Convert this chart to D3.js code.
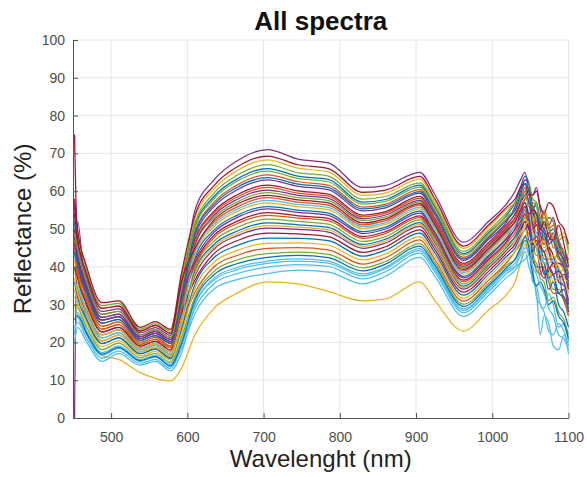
<!DOCTYPE html>
<html>
<head>
<meta charset="utf-8">
<script src="https://cdn.jsdelivr.net/npm/d3@7"></script>
<style>
  body { margin: 0; background: #fff; }
  svg { display: block; font-family: "Liberation Sans", Arial, sans-serif; }
</style>
</head>
<body>
<script>
// Chart size and margins (axes box matches the MATLAB figure)
const width = 587;
const height = 477;
const margin = { top: 40, right: 18.5, bottom: 59, left: 73 };

const wavelengths = [452, 456, 468, 488, 510, 538, 558, 578, 592, 610, 635, 665, 705, 745, 785, 830, 860, 905, 925, 962, 995, 1020,
                     1030, 1037, 1043, 1048, 1053, 1058, 1063, 1068, 1074, 1080, 1087, 1094, 1100];

// Reflectance (%) of each spectrum, one array per sample
const s0 = [44, 37, 30, 22.8, 24, 19, 20.3, 18, 27.5, 42.4, 49.7, 53.6, 55.9, 55, 54.2, 49.3, 50.5, 54.7, 49.1, 37.5, 43, 48, 51, 53, 56, 50, 49, 53, 46, 42, 42, 42, 39, 31, 30];
const s1 = [50, 42.2, 34, 25.9, 26.8, 21, 22.4, 20.2, 31.7, 44.4, 51.8, 55.8, 58.3, 57.1, 56.3, 51.1, 52.2, 56.3, 50.6, 38.9, 44.4, 49.4, 52, 55, 58, 59, 51, 46, 45, 50, 46, 40, 41, 39, 36];
const s2 = [30, 27, 22, 16.5, 15.5, 12, 10.5, 9.8, 13, 22, 29, 33, 36, 35.5, 33.5, 31, 31.5, 36, 31, 23, 28.5, 33, 36, 41, 46, 44, 44, 46, 41, 40, 42, 43, 38, 40, 44];
const s3 = [56, 43.5, 35, 26.6, 27.5, 21.5, 22.9, 20.8, 32.8, 55, 63, 68, 71, 68.5, 67.5, 61, 61.5, 65, 59, 46.5, 52, 57, 60, 63, 65, 60, 59, 61, 55, 51, 51, 53, 47, 43, 42];
const s4 = [40, 34.4, 28, 21.2, 22.6, 18, 19.2, 16.9, 25.4, 39.6, 46.8, 50.4, 52.6, 52, 51.3, 46.7, 48, 52.4, 46.9, 35.5, 41, 46, 48, 51, 53, 54, 46, 43, 43, 44, 38, 34, 34, 32, 27];
const s5 = [24, 25.3, 21, 15.8, 17.7, 14.5, 15.5, 13.1, 18.1, 27.6, 34.1, 36.6, 38.2, 39.1, 38.6, 35.5, 37.5, 42.5, 37.4, 26.9, 32.4, 37.4, 39, 41, 44, 40, 37, 33, 22, 27, 25, 19, 18, 22, 17];
const s6 = [75, 46, 36, 27.4, 28.2, 22, 23.4, 21.3, 33.8, 47.2, 54.7, 59, 61.6, 60.1, 59.2, 53.7, 54.6, 58.6, 52.8, 40.9, 46.4, 51.4, 54, 57, 59, 60, 55, 51, 52, 50, 53, 52, 46, 41, 40];
const s7 = [36, 31.8, 26, 19.7, 21.2, 17, 18.2, 15.8, 23.3, 35.4, 42.4, 45.6, 47.6, 47.5, 46.9, 42.8, 44.4, 48.9, 43.6, 32.5, 38, 43, 45, 48, 50, 51, 42, 40, 40, 39, 34, 36, 30, 28, 24];
const s8 = [55, 47.4, 38, 29, 29.6, 23, 24.5, 22.4, 35.9, 49.4, 57.1, 61.6, 64.3, 62.5, 61.6, 55.8, 56.6, 60.4, 54.6, 42.5, 48, 53, 55, 58, 61, 57, 56, 56, 50, 55, 51, 45, 45, 42, 42];
const s9 = [46, 39.6, 32, 24.3, 25.4, 20, 21.3, 19.1, 29.6, 52.8, 60.6, 65.4, 68.3, 66.1, 65.1, 58.9, 59.5, 63.2, 57.2, 44.9, 50.4, 55.4, 57, 59, 60, 61, 56, 53, 54, 55, 50, 47, 48, 49, 45];
const s10 = [0, 52, 29, 22, 23.3, 18.5, 19.7, 17.5, 26.5, 37.6, 44.7, 48.2, 50.2, 49.9, 49.2, 44.9, 46.3, 50.7, 45.4, 34.1, 39.6, 44.6, 47, 50, 52, 47, 46, 45, 39, 37, 40, 38, 33, 34, 28];
const s11 = [38, 38.3, 31, 23.5, 24.7, 19.5, 20.8, 18.6, 28.6, 45.5, 53, 57.1, 59.6, 58.3, 57.5, 52.2, 53.2, 57.2, 51.5, 39.7, 45.2, 50.2, 53, 56, 55, 57, 53, 49, 49, 48, 44, 41, 44, 40, 34];
const s12 = [28, 27.9, 23, 17.3, 19.1, 15.5, 16.6, 14.2, 20.2, 30.4, 37, 39.8, 41.5, 42.1, 41.5, 38.1, 39.9, 44.8, 39.6, 28.9, 34.4, 39.4, 41, 44, 47, 46, 40, 32, 30, 29, 33, 30, 24, 25, 20];
const s13 = [48, 40.9, 33, 25.1, 26.1, 20.5, 21.8, 19.7, 30.7, 41, 48.3, 52, 54.3, 53.5, 52.8, 48, 49.3, 53.5, 48, 36.5, 42, 47, 50, 52, 54, 50, 50, 51, 46, 44, 45, 43, 37, 38, 34];
const s14 = [52, 42.2, 34, 25.9, 26.8, 21, 22.4, 20.2, 31.7, 50.8, 58.6, 63.2, 66, 64, 63.1, 57.1, 57.8, 61.6, 55.7, 43.5, 49, 54, 57, 61, 64, 62, 55, 57, 52, 47, 49, 50, 46, 43, 38];
const s15 = [33, 33.1, 27, 20.4, 21.9, 17.5, 18.7, 16.4, 24.4, 33.2, 40, 43, 44.9, 45.1, 44.5, 40.7, 42.4, 47.1, 41.8, 30.9, 36.4, 41.4, 44, 46, 48, 49, 44, 39, 38, 40, 36, 33, 33, 31, 27];
const s16 = [42, 35.7, 29, 22, 23.3, 18.5, 19.7, 17.5, 26.5, 43.2, 50.6, 54.6, 56.9, 55.9, 55.1, 50.1, 51.2, 55.3, 49.8, 38.1, 43.6, 48.6, 51, 54, 53, 51, 52, 53, 48, 45, 46, 47, 43, 39, 40];
const s17 = [57, 46.1, 37, 28.2, 28.9, 22.5, 23.9, 21.9, 34.9, 48.3, 55.9, 60.3, 63, 61.3, 60.4, 54.8, 55.6, 59.5, 53.7, 41.7, 47.2, 52.2, 56, 60, 63, 62, 56, 54, 49, 46, 47, 49, 44, 42, 37];
const s18 = [30, 29.2, 24, 18.1, 19.8, 16, 17.1, 14.7, 21.2, 32, 38.8, 41.8, 43.5, 43.9, 43.3, 39.7, 41.4, 46.1, 41, 30.1, 35.6, 40.6, 42, 45, 47, 43, 42, 41, 37, 36, 31, 32, 28, 26, 22];
const s19 = [22, 26.6, 22, 16.6, 18.4, 15, 16.1, 13.6, 19.1, 29, 35.6, 38.2, 39.9, 40.6, 40.1, 36.8, 38.7, 43.6, 38.5, 27.9, 33.4, 38.4, 40, 43, 45, 44, 36, 35, 30, 28, 23, 22, 25, 23, 19];
const s20 = [40, 37, 30, 22.8, 24, 19, 20.3, 18, 27.5, 36.5, 43.5, 46.9, 48.9, 48.7, 48, 43.8, 45.3, 49.8, 44.5, 33.3, 38.8, 43.8, 46, 49, 52, 50, 46, 47, 43, 38, 39, 41, 36, 35, 30];
const s21 = [32, 31.8, 26, 19.7, 21.2, 17, 18.2, 15.8, 23.3, 38.8, 45.9, 49.4, 51.6, 51.1, 50.4, 45.9, 47.3, 51.7, 46.2, 34.9, 40.4, 45.4, 48, 51, 54, 52, 44, 46, 42, 41, 37, 38, 33, 32, 29];
const s22 = [45, 39.6, 32, 24.3, 25.4, 20, 21.3, 19.1, 29.6, 40.4, 47.7, 51.4, 53.6, 52.9, 52.2, 47.5, 48.8, 53, 47.6, 36.1, 41.6, 46.6, 49, 52, 55, 51, 51, 52, 47, 46, 49, 47, 42, 41, 38];
const s23 = [34, 30.5, 25, 18.9, 20.5, 16.5, 17.6, 15.3, 22.3, 34.3, 41.2, 44.3, 46.2, 46.3, 45.7, 41.8, 43.4, 48, 42.7, 31.7, 37.2, 42.2, 44, 47, 50, 46, 47, 45, 41, 43, 40, 36, 37, 36, 33];
const s24 = [50, 43.5, 35, 26.6, 27.5, 21.5, 22.9, 20.8, 32.8, 46, 53.6, 57.8, 60.3, 58.9, 58.1, 52.7, 53.7, 57.6, 52, 40.1, 45.6, 50.6, 53, 57, 60, 57, 51, 48, 50, 49, 44, 41, 41, 40, 35];
const s25 = [53, 48.7, 39, 29.7, 30.3, 23.5, 25, 23, 37, 51.6, 59.5, 64.2, 67, 64.9, 64, 57.9, 58.6, 62.2, 56.4, 44.1, 49.6, 54.6, 57, 59, 60, 62, 58, 57, 52, 51, 53, 52, 47, 48, 44];
const s26 = [35, 34.4, 28, 21.2, 22.6, 18, 19.2, 16.9, 25.4, 43.8, 51.2, 55.2, 57.6, 56.5, 55.7, 50.6, 51.7, 55.8, 50.2, 38.5, 44, 49, 51, 54, 57, 54, 48, 49, 44, 41, 41, 42, 37, 35, 31];
const s27 = [58, 50, 40, 30.5, 31, 24, 25.5, 23.5, 38, 53.6, 61.5, 66.4, 69.3, 67, 66, 59.7, 60.3, 63.9, 57.9, 45.5, 51, 56, 58, 61, 62, 59, 59, 60, 56, 54, 57, 56, 52, 50, 46];
const s28 = [26, 27.1, 22.4, 16.9, 18.7, 15.2, 16.3, 13.8, 19.5, 31.2, 37.9, 40.8, 42.5, 43, 42.4, 38.9, 40.7, 45.5, 40.3, 29.5, 35, 40, 42, 45, 48, 45, 38, 35, 36, 34, 30, 31, 27, 25, 21];
const s29 = [47, 38.3, 31, 23.5, 24.7, 19.5, 20.8, 18.6, 28.6, 46.6, 54.2, 58.4, 61, 59.5, 58.7, 53.2, 54.2, 58.1, 52.4, 40.5, 46, 51, 53, 56, 58, 59, 56, 52, 53, 54, 50, 51, 47, 44, 42];
const s30 = [37, 33.1, 27, 20.4, 21.9, 17.5, 18.7, 16.4, 24.4, 38.2, 45.3, 48.8, 50.9, 50.5, 49.8, 45.4, 46.8, 51.2, 45.8, 34.5, 40, 45, 47, 49, 51, 52, 49, 45, 46, 47, 42, 43, 40, 37, 36];
const s31 = [46, 42.2, 34, 25.9, 26.8, 21, 22.4, 20.2, 31.7, 41.8, 49.1, 53, 55.3, 54.4, 53.6, 48.8, 50, 54.2, 48.7, 37.1, 42.6, 47.6, 50, 54, 56, 53, 47, 48, 45, 44, 40, 38, 39, 36, 31];
const s32 = [49, 44.8, 36, 27.4, 28.2, 22, 23.4, 21.3, 33.8, 50.2, 58, 62.6, 65.3, 63.4, 62.5, 56.6, 57.3, 61.1, 55.3, 43.1, 48.6, 53.6, 55, 58, 59, 56, 57, 56, 51, 53, 50, 48, 45, 44, 41];
const s33 = [20, 24, 20, 15, 17, 14, 15, 12.5, 17, 29.8, 36.5, 39.2, 40.9, 41.5, 41, 37.6, 39.5, 44.3, 39.2, 28.5, 34, 39, 40, 41, 42, 43, 40, 38, 35, 33, 29, 27, 22, 21, 18];
const s34 = [54, 47.4, 38, 29, 29.6, 23, 24.5, 22.4, 35.9, 44.9, 52.4, 56.5, 58.9, 57.7, 56.9, 51.6, 52.7, 56.7, 51.1, 39.3, 44.8, 49.8, 52, 55, 57, 54, 55, 54, 50, 52, 48, 47, 51, 46, 40];
const s35 = [44, 40.9, 33, 25.1, 26.1, 20.5, 21.8, 19.7, 30.7, 48.8, 56.5, 61, 63.6, 61.9, 61, 55.3, 56.1, 59.9, 54.2, 42.1, 47.6, 52.6, 55, 59, 62, 60, 54, 54, 51, 50, 46, 47, 43, 40, 36];

const spectra = [s0, s1, s2, s3, s4, s5, s6, s7, s8, s9, s10, s11, s12, s13, s14, s15, s16, s17,
                 s18, s19, s20, s21, s22, s23, s24, s25, s26, s27, s28, s29, s30, s31, s32, s33, s34, s35];

// MATLAB default line colour order
const colors = ["#0072BD", "#D95319", "#EDB120", "#7E2F8E", "#77AC30", "#4DBEEE", "#A2142F"];

// Tick values
const xTicks = [500, 600, 700, 800, 900, 1000, 1100];
const yTicks = [0, 10, 20, 30, 40, 50, 60, 70, 80, 90, 100];

const svg = d3.select("body").append("svg")
    .attr("width", width)
    .attr("height", height)
    .attr("viewBox", [0, 0, width, height]);

const x = d3.scaleLinear().domain([450, 1100]).range([margin.left, width - margin.right]);
const y = d3.scaleLinear().domain([0, 100]).range([height - margin.bottom, margin.top]);

// Grid lines
svg.append("g")
    .selectAll("line")
    .data(xTicks)
    .join("line")
    .attr("x1", d => x(d)).attr("x2", d => x(d))
    .attr("y1", y(0)).attr("y2", y(100))
    .attr("stroke", "#e6e6e6");

svg.append("g")
    .selectAll("line")
    .data(yTicks.filter(d => d > 0))
    .join("line")
    .attr("x1", x(450)).attr("x2", x(1100))
    .attr("y1", d => y(d)).attr("y2", d => y(d))
    .attr("stroke", "#e6e6e6");

// Spectra
const line = d3.line()
    .x(d => x(d[0]))
    .y(d => y(d[1]))
    .curve(d3.curveMonotoneX);

svg.append("g")
    .attr("fill", "none")
    .attr("stroke-width", 1.25)
    .selectAll("path")
    .data(spectra)
    .join("path")
    .attr("stroke", (d, i) => colors[i % colors.length])
    .attr("d", d => line(d.map((v, j) => [wavelengths[j], v])));

// Axes (ticks point inwards like MATLAB)
const xAxis = svg.append("g")
    .attr("transform", `translate(0,${y(0)})`)
    .call(d3.axisBottom(x).tickValues(xTicks).tickFormat(d3.format("d"))
        .tickSizeInner(-5).tickSizeOuter(0).tickPadding(14));

const yAxis = svg.append("g")
    .attr("transform", `translate(${x(450)},0)`)
    .call(d3.axisLeft(y).tickValues(yTicks).tickFormat(d3.format("d"))
        .tickSizeInner(-5).tickSizeOuter(0).tickPadding(8));

[xAxis, yAxis].forEach(g => {
    g.select(".domain").attr("stroke", "#555");
    g.selectAll(".tick line").attr("stroke", "#555");
    g.selectAll(".tick text")
        .attr("fill", "#4d4d4d")
        .style("font-size", "14px")
        .style("font-family", "'Liberation Sans', Arial, sans-serif");
});

// Title and axis labels
svg.append("text")
    .attr("x", (x(450) + x(1100)) / 2)
    .attr("y", 30)
    .attr("text-anchor", "middle")
    .attr("font-weight", "bold")
    .attr("font-size", 26)
    .attr("fill", "#111")
    .text("All spectra");

svg.append("text")
    .attr("x", (x(450) + x(1100)) / 2)
    .attr("y", 467)
    .attr("text-anchor", "middle")
    .attr("font-size", 24)
    .attr("fill", "#222")
    .text("Wavelenght (nm)");

svg.append("text")
    .attr("transform", `translate(31,${(y(0) + y(100)) / 2}) rotate(-90)`)
    .attr("text-anchor", "middle")
    .attr("font-size", 24)
    .attr("fill", "#222")
    .text("Reflectance (%)");
</script>
</body>
</html>
